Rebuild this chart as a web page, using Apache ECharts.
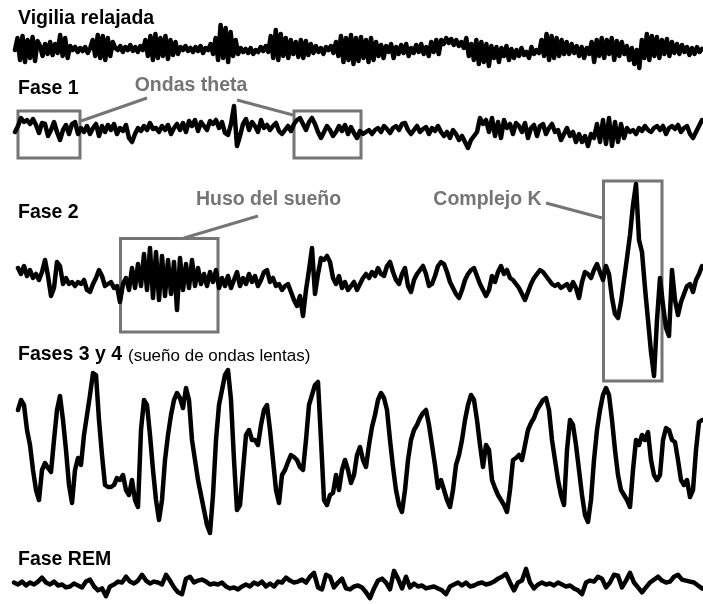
<!DOCTYPE html>
<html>
<head>
<meta charset="utf-8">
<title>Fases del sueño – EEG</title>
<script src="https://cdn.jsdelivr.net/npm/echarts@6/dist/echarts.min.js"></script>
<style>
  html, body { margin: 0; padding: 0; background: #fff; }
  #chart { width: 703px; height: 604px; }
</style>
</head>
<body>
<div id="chart"></div>
<script>
// Trace titles
const traceTitles = ['Vigilia relajada', 'Fase 1', 'Fase 2', 'Fases 3 y 4', 'Fase REM'];
const slowWaveNote = '(sueño de ondas lentas)';
const annotationLabels = ['Ondas theta', 'Huso del sueño', 'Complejo K'];

// EEG samples (amplitude, positive = up), evenly spaced in time

// Relaxed wakefulness: alpha activity
const vigilia = [
  0, 12, -10, 14, -12, 10, -8, 13, -11, 9,
  4, -6, 6, -4, 8, -5, 6, -3, 15, -6,
  12, -8, 4, 0, 3, -2, 2, -1, 3, -3,
  2, 10, -6, 15, -8, 14, -10, 12, -6, 8,
  2, 0, 4, -2, 3, 0, 5, -1, 3, -2,
  4, 0, 10, -6, 14, -10, 16, -8, 12, -6,
  14, -9, 10, -5, 8, -4, 3, 0, 4, -1,
  2, -2, 3, -1, 4, -3, 2, 0, 6, -4,
  12, -10, 25, -8, 22, -12, 18, -6, 10, -4,
  2, -2, 1, -3, 2, -4, 0, -2, 3, -1,
  4, -2, 14, -8, 20, -10, 16, -6, 12, -8,
  10, -4, 8, -7, 10, -8, 9, -5, 6, -3,
  4, -2, 2, -4, 3, 0, 4, -3, 8, -6,
  14, -12, 12, -10, 15, -14, 12, -11, 13, -8,
  10, -12, 12, -10, 8, -6, 5, -8, 4, -2,
  6, -8, 3, -4, 5, -3, 6, -6, 2, -3,
  5, -2, 6, -4, 3, -6, 8, -2, 10, -4,
  10, 6, 12, 7, 11, 5, 10, 4, 8, 2,
  12, -6, 6, -10, 10, -14, 8, -12, 6, -16,
  4, -8, 3, -12, 2, -6, 4, -10, 1, -8,
  0, -6, 2, -5, -2, -8, 3, -4, 0, -3,
  10, -6, 16, -10, 14, -8, 12, -6, 10, -4,
  8, -4, 6, -3, 4, -6, 3, -8, 2, -4,
  8, -12, 10, -6, 12, -8, 10, -4, 12, -10,
  9, -6, 8, -4, 4, -10, 2, -14, 0, -18,
  10, -8, 16, -10, 14, -6, 13, -8, 10, -4,
  11, -6, 8, -3, 6, -4, 5, -2, 3, -5,
  2, -4, 3, -2, 1
];

// Stage 1: theta waves
const fase1 = [
  -4, 2, 10, 6, 8, 4, 9, 3, -5, 5,
  4, -8, -2, 6, -4, -12, -2, 3, -6, 4,
  6, -6, 0, -4, 2, -6, 0, 4, -8, 2,
  -4, 3, -2, 4, -6, 0, -3, 3, -10, -14,
  -6, 0, -3, 2, -2, 5, -1, 0, -4, 2,
  -2, 3, -6, 0, 4, -2, 5, -4, 7, 2,
  8, -3, 6, 2, -2, 7, 4, 8, 0, 6,
  -5, -7, 4, 22, -18, -8, 4, 9, -2, 6,
  2, -4, 8, 0, 3, -2, 2, 5, -3, -6,
  -2, 2, -3, 4, 8, 10, 4, -2, 6, 10,
  4, -4, -10, -4, 2, -2, -8, -4, 2, -3,
  3, -6, 1, -5, -10, -3, -6, -4, -2, -6,
  -2, 0, -4, 2, -1, -5, 0, 2, -2, 4,
  5, -2, -6, -2, 2, -4, -1, 1, -6, 0,
  -3, 2, -4, -8, -4, -10, -2, -6, -12, -8,
  -14, -20, -12, -8, -4, 10, 4, 8, -4, 10,
  -8, 6, -10, 8, 0, 4, -6, 5, 2, -4,
  5, -10, 0, 3, -8, 2, 4, -6, 0, 4,
  -4, -2, -12, -6, 0, -8, -4, -14, -6, -14,
  -8, -18, -6, -10, 4, -14, 8, -16, 10, -18,
  6, -14, 4, -10, 0, -4, -2, -6, 0, -3,
  2, -2, -4, 0, 2, -2, 2, -6, 0, 2,
  -1, 3, -4, 0, 2, -6, -10, -4, 2, 8
];

// Stage 2: sleep spindle and K-complex
const fase2 = [
  12, 6, 14, 4, 10, 2, 6, 0, 8, 20,
  4, -16, -8, 18, 14, -4, 2, -4, -2, -6,
  -2, -4, 0, -10, -12, -4, 2, 10, 4, -6,
  -4, -2, -8, -6, -22, -4, 2, -10, 12, -8,
  16, -6, 26, -10, 32, -18, 28, -20, 24, -16,
  20, -14, 18, -30, 22, -10, 16, -8, 20, -6,
  12, -4, 6, -6, 8, -2, 10, -8, 2, -6,
  4, -8, 0, 8, -6, 2, -4, 6, -2, 4,
  -6, 0, 8, 10, -2, 2, -6, -4, -10, -6,
  -4, -12, -20, -26, -16, -36, -10, 10, 32, -14,
  6, 22, 20, 24, 18, 2, -4, 4, -8, -2,
  -10, -6, -2, -10, -4, 2, 6, 2, 8, 4,
  12, 6, 4, 14, 18, 8, 0, -4, 6, 12,
  -6, -12, 0, 6, 10, 14, 6, -6, -4, 4,
  14, 18, 16, 8, -2, -8, -14, -18, -10, 0,
  6, 10, 12, 4, -4, -10, -16, -10, 4, -2,
  8, 14, 6, 10, 2, 0, -4, -8, -14, -20,
  -12, -4, 2, 6, 10, 8, 4, 0, -4, -6,
  -4, -8, -6, -4, -10, -2, -8, -18, -2, 8,
  6, 2, 10, 16, 8, 0, 14, 6, -18, -34,
  -38, -22, 0, 22, 45, 75, 96, 40, 28, -8,
  -40, -72, -96, -40, 2, -25, -48, -56, 10, -20,
  -35, -22, -14, -6, -4, -12, 0, 6, 14
];

// Stages 3 and 4: slow-wave sleep (delta)
const fases34 = [
  40, 50, 45, 20, 5, -20, -40, -50, -20, -13,
  -18, -22, 10, 40, 54, 30, 0, -35, -53, -20,
  -8, -15, 15, 35, 55, 77, 75, 30, -5, -35,
  -37, -37, -35, -28, -30, -25, -40, -45, -30, -50,
  -57, 20, 50, 45, 15, -20, -50, -70, -50, -10,
  15, 35, 50, 57, 52, 42, 62, 50, 10, -10,
  -30, -45, -60, -75, -83, -45, 10, 45, 60, 75,
  80, 50, -10, -60, -55, -20, 15, 20, 10, 10,
  5, 25, 40, 45, 20, -10, -40, -53, -25, -20,
  -12, -5, -7, -10, -17, -20, 10, 45, 55, 65,
  68, 10, -50, -55, -45, -43, -25, -40, -20, -10,
  -20, -33, -25, -5, 3, -10, -17, 5, 23, 35,
  50, 57, 52, 40, 10, -17, -40, -55, -62, -40,
  -10, 10, 20, 25, 32, 37, 40, 25, 5, -15,
  -38, -30, -40, -50, -57, -40, -15, -5, 10, 30,
  45, 55, 50, 30, 5, -17, 5, 0, -30, -38,
  -45, -50, -55, -62, -40, -10, -8, -5, -10, 5,
  20, 27, 32, 40, 45, 50, 52, 40, 10, -10,
  -30, -45, -55, 0, 30, 25, 5, -20, -45, -65,
  -72, -50, -10, 20, 40, 55, 62, 55, 30, 0,
  -25, -40, -45, -50, -57, -20, 10, 5, 15, 10,
  18, -10, -25, -30, -25, 10, 22, 20, 10, 8,
  -10, -30, -35, -30, -47, -40, 0, 28, 30
];

// REM sleep: low-amplitude mixed frequency
const faseREM = [
  2, 0, 3, -1, 2, 0, 3, 7, 2, 0,
  3, -1, 0, -3, -2, 1, -1, -3, 3, 5,
  -2, -6, -4, -12, -2, 0, 3, 2, 8, 3,
  1, 4, 10, 4, 1, 3, 2, 0, 10, 4,
  -3, -8, -10, 6, 8, 2, 4, 5, 3, 0,
  1, 0, 2, -2, -4, -3, -5, -2, 0, -2,
  2, 0, 3, -2, 1, -2, 3, 2, 7, 4,
  2, 3, 5, 2, 8, 12, -3, -5, 10, 8,
  -3, 2, 6, -4, -5, -2, -1, -3, -8, -14,
  -4, 4, 6, 2, -5, 14, 6, -4, 8, -3,
  1, -2, -1, -4, -3, -2, -4, -6, -10, -2,
  0, 2, -1, 2, -2, -1, 1, 2, 0, 1,
  3, 6, 8, 11, 2, -6, 2, 4, 16, 2,
  -4, 0, 2, 0, 1, -1, 2, 0, -2, -1,
  -4, -6, -10, 2, 4, 3, 8, 6, -3, 2,
  10, 9, -3, 4, 12, 2, -3, -8, -3, 2,
  5, 8, 4, 2, 3, 8, 10, 5, 4, 3,
  2, -1, -4
];

const traces = [vigilia, fase1, fase2, fases34, faseREM];

// Panel layout: pixel band for every trace, and amplitude half-range of its y axis
const panels = [
  { left: 15, right: 1, center: 50,  half: 30 },
  { left: 15, right: 1, center: 128, half: 30 },
  { left: 18, right: 1, center: 280, half: 110 },
  { left: 18, right: 1, center: 450, half: 90 },
  { left: 14, right: 1, center: 585, half: 20 }
];

const grid = [], xAxis = [], yAxis = [], series = [];
panels.forEach((p, i) => {
  grid.push({ left: p.left, right: p.right, top: p.center - p.half, height: 2 * p.half });
  xAxis.push({ gridIndex: i, type: 'value', min: 0, max: traces[i].length - 1, show: false });
  yAxis.push({ gridIndex: i, type: 'value', min: -p.half, max: p.half, show: false });
  series.push({
    type: 'line',
    xAxisIndex: i,
    yAxisIndex: i,
    data: traces[i].map((v, k) => [k, v]),
    showSymbol: false,
    silent: true,
    lineStyle: { color: '#000', width: 4.5, join: 'round', cap: 'round' },
    z: 3
  });
});

const FONT = '"Liberation Sans", Arial, Helvetica, sans-serif';
const GRAY = '#757575';

function label(text, x, y, opts) {
  return {
    type: 'text',
    x: x, y: y, z: 10,
    style: Object.assign({
      text: text,
      fill: '#000',
      font: 'bold 19.5px ' + FONT,
      verticalAlign: 'middle',
      align: 'left'
    }, opts || {})
  };
}
function box(x, y, w, h) {
  return { type: 'rect', z: 1, shape: { x: x, y: y, width: w, height: h },
    style: { fill: 'none', stroke: GRAY, lineWidth: 3 } };
}
function connector(x1, y1, x2, y2) {
  return { type: 'line', z: 1, shape: { x1: x1, y1: y1, x2: x2, y2: y2 },
    style: { stroke: GRAY, lineWidth: 3 } };
}

const graphic = [
  label(traceTitles[0], 18, 18.5),
  label(traceTitles[1], 18, 88.5),
  label(traceTitles[2], 18, 213),
  label(traceTitles[3], 18, 355),
  label(slowWaveNote, 128, 356, { font: '17px ' + FONT }),
  label(traceTitles[4], 18, 559.5),

  // Theta waves (stage 1)
  label(annotationLabels[0], 191, 86, { fill: GRAY, align: 'center' }),
  box(18, 111, 62, 47),
  box(294, 111, 67, 47),
  connector(147, 98, 81, 121),
  connector(237, 100, 293, 115),

  // Sleep spindle (stage 2)
  label(annotationLabels[1], 268.5, 200, { fill: GRAY, align: 'center' }),
  box(120.5, 238.5, 97.5, 93.5),
  connector(258, 216, 184, 238),

  // K-complex (stage 2)
  label(annotationLabels[2], 487.5, 200, { fill: GRAY, align: 'center' }),
  box(603.5, 181, 58.5, 200),
  connector(546, 203, 602, 218)
];

const chart = echarts.init(document.getElementById('chart'), null, { renderer: 'canvas' });
chart.setOption({
  backgroundColor: '#fff',
  animation: false,
  grid: grid,
  xAxis: xAxis,
  yAxis: yAxis,
  series: series,
  graphic: graphic
});
</script>
</body>
</html>
